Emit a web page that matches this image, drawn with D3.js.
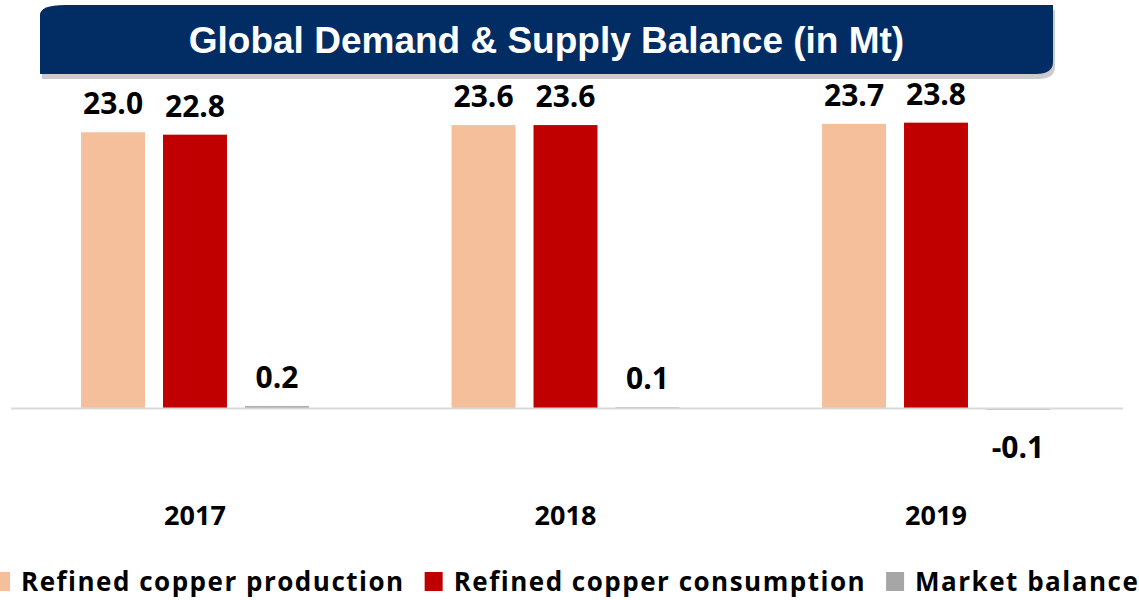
<!DOCTYPE html>
<html><head><meta charset="utf-8">
<script src="https://cdn.jsdelivr.net/npm/d3@7"></script>
<style>html,body{margin:0;padding:0;background:#fff;overflow:hidden}</style>
</head><body>
<svg id="chart" width="1139" height="600"></svg>
<script>
const years = ["2017", "2018", "2019"];
const seriesNames = ["Refined copper production", "Refined copper consumption", "Market balance"];
const production = [23.0, 23.6, 23.7];
const consumption = [22.8, 23.6, 23.8];
const balance = [0.2, 0.1, -0.1];
const seriesColors = ["#f5bf9b", "#c00000", "#a6a6a6"];
const title = "Global Demand & Supply Balance (in Mt)";

const values = [production, consumption, balance];
const data = years.map((yr, i) => ({year: yr, vals: seriesNames.map((s, k) => ({key: s, k, v: values[k][i]}))}));

const svg = d3.select("#chart");
const font = "'Open Sans', sans-serif";

// Title banner
const banner = "M40,74 L40,15 Q40,5 65,5 L1053,5 L1053,62 Q1053,74 1036,74 Z";
svg.append("path").attr("d", banner).attr("transform", "translate(2,5)").attr("fill", "#cccccc");
svg.append("path").attr("d", banner).attr("fill", "#022c64");
svg.append("text").attr("x", 546.5).attr("y", 53).attr("text-anchor", "middle")
  .attr("font-family", "'Liberation Sans', Arial, sans-serif").attr("font-weight", "bold")
  .attr("font-size", 37).attr("fill", "#fff").text(title);

// Scales
const x0 = d3.scaleBand().domain(years).range([9.75, 1121.25]).paddingInner(0.385).paddingOuter(0.1925);
const x1 = d3.scaleBand().domain(seriesNames).range([0, x0.bandwidth()]).paddingInner(0.2195);
const y = d3.scaleLinear().domain([0, 25]).range([408.5, 108.25]);
const color = d3.scaleOrdinal().domain(seriesNames).range(seriesColors);

const groups = svg.append("g").selectAll("g").data(data).join("g")
  .attr("transform", d => `translate(${x0(d.year)},0)`);

groups.selectAll("rect").data(d => d.vals).join("rect")
  .attr("x", d => x1(d.key))
  .attr("width", x1.bandwidth())
  .attr("y", d => Math.min(y(d.v), y(0)))
  .attr("height", d => Math.abs(y(d.v) - y(0)))
  .attr("fill", d => color(d.key));

// baseline
svg.append("line").attr("x1", 11).attr("x2", 1123).attr("y1", y(0)).attr("y2", y(0))
  .attr("stroke", "#d9d9d9").attr("stroke-width", 2);

// value labels
groups.selectAll("text.val").data(d => d.vals).join("text").attr("class", "val")
  .attr("x", d => x1(d.key) + x1.bandwidth() / 2)
  .attr("y", d => d.v >= 0 ? y(d.v) - 18 : y(d.v) + 48)
  .attr("text-anchor", "middle").attr("font-family", font).attr("font-weight", "bold")
  .attr("font-size", 30).attr("fill", "#000")
  .text(d => d.v.toFixed(1));

// year labels
svg.append("g").selectAll("text").data(years).join("text")
  .attr("x", d => x0(d) + x0.bandwidth() / 2).attr("y", 525)
  .attr("text-anchor", "middle").attr("font-family", font).attr("font-weight", "bold")
  .attr("font-size", 27).attr("fill", "#000").text(d => d);

// legend
const legend = svg.append("g");
let lx = -8;
seriesNames.forEach((s, i) => {
  legend.append("rect").attr("x", lx).attr("y", 572).attr("width", 18).attr("height", 19).attr("fill", seriesColors[i]);
  lx += 18 + 11;
  const t = legend.append("text").attr("x", lx).attr("y", 591)
    .attr("font-family", font).attr("font-weight", "bold").attr("font-size", 26)
    .attr("letter-spacing", 1.5).attr("fill", "#000").text(s);
  lx += t.node().getComputedTextLength() + 20;
});
</script>
</body></html>
